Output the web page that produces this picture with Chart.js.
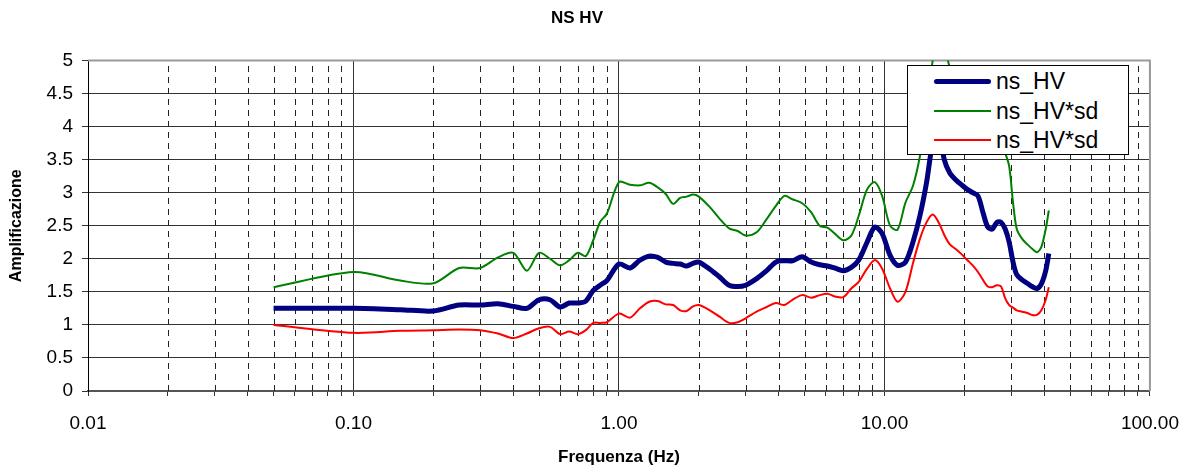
<!DOCTYPE html>
<html>
<head>
<meta charset="utf-8">
<title>NS HV</title>
<script src="https://cdn.jsdelivr.net/npm/chart.js@4.4.1/dist/chart.umd.min.js"></script>
<style>
  html, body { margin: 0; padding: 0; background: #fff; }
  #wrap { position: relative; width: 1195px; height: 469px; }
  #legend {
    position: absolute; left: 907px; top: 65px; width: 220px; height: 88px;
    border: 1px solid #000; background: #fff;
    font-family: Arial, "Liberation Sans", sans-serif; font-size: 23px; color: #000;
  }
  #legend .row { position: absolute; left: 0; height: 0; }
  #legend .swatch { position: absolute; left: 26px; width: 57px; }
  #legend .label { position: absolute; left: 88px; top: -14px; line-height: 28px; white-space: nowrap; }
</style>
</head>
<body>
<div id="wrap">
  <canvas id="hv" width="1195" height="469"></canvas>
  <div id="legend"></div>
</div>
<script>
const FONT = 'Arial, "Liberation Sans", sans-serif';

// frequenze (Hz)
const freq = [0.05, 0.1, 0.15, 0.2, 0.25, 0.3, 0.35, 0.4, 0.45, 0.5, 0.55, 0.6, 0.65, 0.7, 0.75, 0.8, 0.85, 0.9,
  1.0, 1.1, 1.2, 1.3, 1.4, 1.5, 1.6, 1.7, 1.8, 1.9, 2.0, 2.2, 2.4, 2.6, 2.8, 3.0, 3.3, 3.6, 3.9, 4.2, 4.5, 4.9,
  5.3, 5.7, 6.1, 6.5, 7.0, 7.5, 8.0, 8.6, 9.2, 9.8, 10.5, 11.2, 12.0, 12.8, 13.6, 14.4, 15.2, 16.0, 16.8, 17.6,
  18.5, 19.5, 20.5, 21.5, 22.5, 23.5, 24.5, 25.5, 26.5, 27.5, 28.5, 29.5, 30.5, 31.5, 33, 34.5, 36, 37.5, 39, 40.5, 41.6];

const nsHV = [1.25, 1.25, 1.23, 1.21, 1.30, 1.30, 1.32, 1.28, 1.25, 1.38, 1.38, 1.27, 1.33, 1.33, 1.36, 1.52, 1.60, 1.67,
  1.92, 1.86, 1.98, 2.04, 2.02, 1.95, 1.93, 1.92, 1.89, 1.93, 1.95, 1.84, 1.72, 1.60, 1.58, 1.60, 1.70, 1.82, 1.95, 1.97, 1.97, 2.03,
  1.95, 1.91, 1.89, 1.86, 1.82, 1.87, 1.98, 2.25, 2.48, 2.38, 2.05, 1.90, 1.95, 2.25, 2.65, 3.15, 3.75, 3.95, 3.50, 3.30,
  3.20, 3.12, 3.05, 3.00, 2.95, 2.70, 2.48, 2.45, 2.55, 2.55, 2.45, 2.25, 1.95, 1.76, 1.68, 1.63, 1.58, 1.55, 1.62, 1.82, 2.08];

const nsHVsdHi = [1.57, 1.80, 1.67, 1.63, 1.86, 1.86, 2.02, 2.09, 1.82, 2.09, 2.00, 1.90, 1.98, 2.09, 2.04, 2.28, 2.56, 2.68,
  3.16, 3.12, 3.11, 3.15, 3.08, 2.98, 2.83, 2.92, 2.94, 2.97, 2.94, 2.78, 2.60, 2.46, 2.42, 2.35, 2.40, 2.60, 2.80, 2.95, 2.90, 2.84,
  2.70, 2.50, 2.47, 2.38, 2.28, 2.35, 2.65, 3.05, 3.16, 2.95, 2.50, 2.44, 2.85, 3.10, 3.55, 4.20, 5.00, 5.30, 5.20, 4.90,
  4.70, 4.50, 4.40, 4.30, 4.20, 3.90, 3.70, 3.70, 3.80, 3.80, 3.60, 3.40, 2.85, 2.45, 2.30, 2.22, 2.15, 2.10, 2.18, 2.45, 2.73];

const nsHVsdLo = [1.00, 0.88, 0.91, 0.92, 0.93, 0.92, 0.87, 0.80, 0.87, 0.95, 0.97, 0.86, 0.90, 0.86, 0.92, 1.03, 1.03, 1.04,
  1.17, 1.11, 1.25, 1.35, 1.36, 1.31, 1.30, 1.22, 1.21, 1.28, 1.30, 1.22, 1.12, 1.03, 1.04, 1.10, 1.20, 1.27, 1.33, 1.30, 1.38, 1.45,
  1.41, 1.45, 1.47, 1.43, 1.42, 1.55, 1.65, 1.85, 1.98, 1.85, 1.55, 1.35, 1.50, 1.93, 2.30, 2.55, 2.67, 2.55, 2.36, 2.22,
  2.15, 2.07, 1.98, 1.90, 1.80, 1.68, 1.58, 1.57, 1.60, 1.58, 1.40, 1.30, 1.26, 1.22, 1.20, 1.18, 1.15, 1.15, 1.22, 1.38, 1.57];

const decades = [0.01, 0.1, 1, 10, 100];
const xTicks = [0.01, 0.02, 0.03, 0.04, 0.05, 0.06, 0.07, 0.08, 0.09,
  0.1, 0.2, 0.3, 0.4, 0.5, 0.6, 0.7, 0.8, 0.9,
  1, 2, 3, 4, 5, 6, 7, 8, 9,
  10, 20, 30, 40, 50, 60, 70, 80, 90, 100];
const yTicks = [0, 0.5, 1, 1.5, 2, 2.5, 3, 3.5, 4, 4.5, 5];

const toPoints = vals => freq.map((f, i) => ({ x: f, y: vals[i] }));

// linee tratteggiate per le suddivisioni minori + cornice grigia
const minorGrid = {
  id: 'minorGrid',
  beforeDatasetsDraw(chart) {
    const { ctx, chartArea: a, scales: { x } } = chart;
    ctx.save();
    ctx.strokeStyle = '#222';
    ctx.lineWidth = 1;
    ctx.setLineDash([6, 5]);
    xTicks.filter(v => !decades.includes(v)).forEach(v => {
      const px = Math.round(x.getPixelForValue(v)) + 0.5;
      ctx.beginPath();
      ctx.moveTo(px, a.bottom);
      ctx.lineTo(px, a.top);
      ctx.stroke();
    });
    ctx.setLineDash([]);
    ctx.strokeStyle = '#999';
    ctx.lineWidth = 2;
    ctx.beginPath();
    ctx.moveTo(a.left, a.top);
    ctx.lineTo(a.right, a.top);
    ctx.lineTo(a.right, a.bottom);
    ctx.stroke();
    ctx.restore();
  }
};

const datasets = [
  { label: 'ns_HV', data: toPoints(nsHV), borderColor: '#000080', borderWidth: 5 },
  { label: 'ns_HV*sd', data: toPoints(nsHVsdHi), borderColor: '#008000', borderWidth: 2 },
  { label: 'ns_HV*sd', data: toPoints(nsHVsdLo), borderColor: '#ff0000', borderWidth: 2 }
].map(d => Object.assign(d, { pointRadius: 0, tension: 0.3, fill: false }));

const chart = new Chart(document.getElementById('hv'), {
  type: 'line',
  data: { datasets },
  plugins: [minorGrid],
  options: {
    responsive: false,
    animation: false,
    layout: { padding: { left: 0, right: 41, top: 0, bottom: 0 } },
    plugins: {
      legend: { display: false },
      tooltip: { enabled: false },
      title: {
        display: true,
        text: 'NS HV',
        color: '#000',
        font: { family: FONT, size: 17, weight: 'bold' },
        padding: { top: 8, bottom: 32 }
      }
    },
    scales: {
      x: {
        type: 'logarithmic',
        min: 0.01,
        max: 100,
        afterBuildTicks: s => { s.ticks = xTicks.map(v => ({ value: v, major: decades.includes(v) })); },
        afterFit: s => { s.height = 78; },
        ticks: {
          autoSkip: false,
          maxRotation: 0,
          padding: 16,
          color: '#000',
          font: { family: FONT, size: 19 },
          callback: v => decades.includes(v) ? v.toFixed(2) : ''
        },
        grid: {
          color: c => (c.tick && decades.includes(c.tick.value)) ? '#333' : 'rgba(0,0,0,0)',
          tickColor: '#333',
          tickLength: 5
        },
        border: { color: '#555', width: 2 },
        title: {
          display: true,
          text: 'Frequenza (Hz)',
          color: '#000',
          font: { family: FONT, size: 17, weight: 'bold' },
          padding: { top: 0, bottom: 1 }
        }
      },
      y: {
        min: 0,
        max: 5,
        afterBuildTicks: s => { s.ticks = yTicks.map(v => ({ value: v })); },
        afterFit: s => { s.width = 88; },
        ticks: {
          padding: 9,
          color: '#000',
          font: { family: FONT, size: 19 },
          callback: v => String(v)
        },
        grid: { color: '#333', tickColor: '#333', tickLength: 6 },
        border: { color: '#000', width: 1 },
        title: {
          display: true,
          text: 'Amplificazione',
          color: '#000',
          font: { family: FONT, size: 16, weight: 'bold' },
          padding: { top: 7, bottom: 0 }
        }
      }
    }
  }
});

// legenda dentro l'area del grafico
const legend = document.getElementById('legend');
const rowsY = [15, 45, 74];
chart.data.datasets.forEach((d, i) => {
  const row = document.createElement('div');
  row.className = 'row';
  row.style.top = rowsY[i] + 'px';
  const sw = document.createElement('span');
  sw.className = 'swatch';
  sw.style.height = d.borderWidth + 'px';
  sw.style.top = (-d.borderWidth / 2) + 'px';
  sw.style.background = d.borderColor;
  if (d.borderWidth > 3) sw.style.borderRadius = '3px';
  const lb = document.createElement('span');
  lb.className = 'label';
  lb.textContent = d.label;
  row.appendChild(sw);
  row.appendChild(lb);
  legend.appendChild(row);
});
</script>
</body>
</html>
